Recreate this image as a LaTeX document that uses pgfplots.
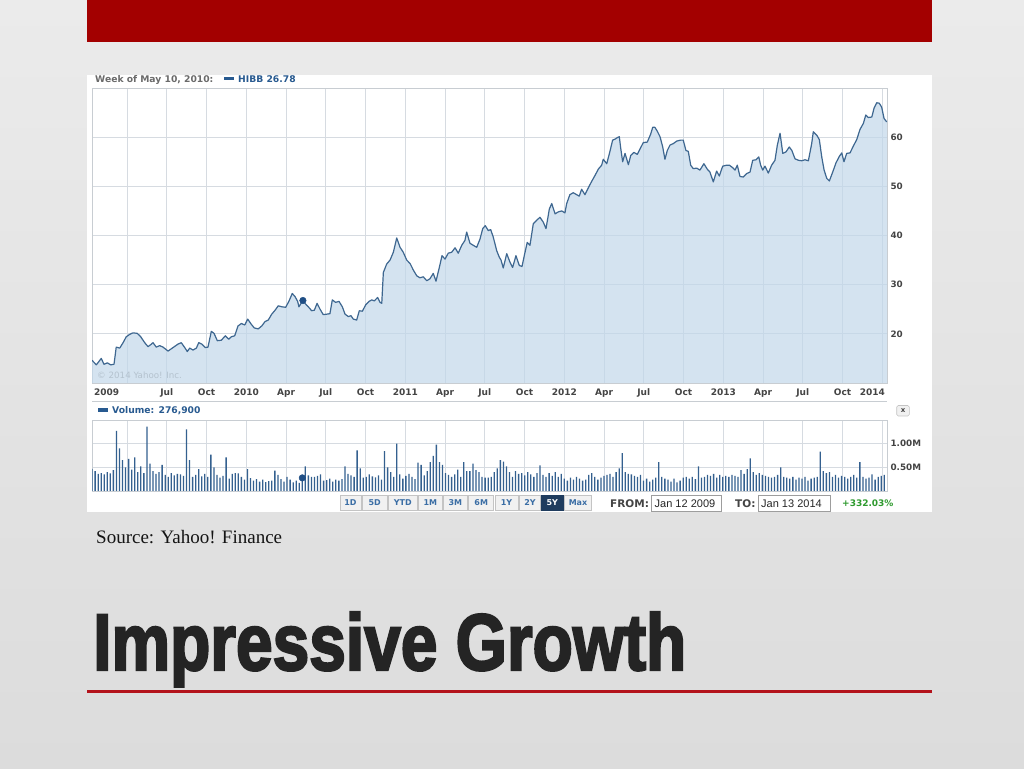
\documentclass[border=0pt]{standalone}
\usepackage{graphicx}
\usepackage{pgfplots}
\pgfplotsset{compat=1.18}
\usepackage{pgfplotstable}
\usepackage{fontspec}
\setmainfont{DejaVu Sans}
\newfontfamily\serifface{Liberation Serif}
\newfontfamily\arialface{Liberation Sans}
\newfontfamily\titleface[FakeBold=3]{Liberation Sans}

\definecolor{bgtop}{HTML}{EBEBEB}
\definecolor{bgbot}{HTML}{DCDCDC}
\definecolor{redbar}{HTML}{A30000}
\definecolor{redline}{HTML}{B3121B}
\definecolor{titlec}{HTML}{242424}
\definecolor{gridc}{HTML}{D6DBE1}
\definecolor{borderc}{HTML}{C8CDD2}
\definecolor{pfill}{HTML}{C2D8EA}
\definecolor{pline}{HTML}{3E6790}
\definecolor{dotc}{HTML}{1F4E85}
\definecolor{labc}{HTML}{444444}
\definecolor{hdrgray}{HTML}{6A6A6A}
\definecolor{legblue}{HTML}{285A90}
\definecolor{volc}{HTML}{34608F}
\definecolor{copyc}{HTML}{B4C2CE}
\definecolor{btnfill}{HTML}{F1F1F1}
\definecolor{btnborder}{HTML}{C4C4C4}
\definecolor{btntext}{HTML}{3B6EA5}
\definecolor{btnsel}{HTML}{1F3C5E}
\definecolor{greenc}{HTML}{2E9A2E}

\pgfplotstableread{
t v
2009.030 14.6
2009.057 13.7
2009.088 15.0
2009.105 13.8
2009.126 14.1
2009.147 13.7
2009.168 13.8
2009.182 17.3
2009.204 17.1
2009.225 18.2
2009.245 19.4
2009.267 19.9
2009.287 20.2
2009.314 20.1
2009.336 19.4
2009.361 18.2
2009.382 17.4
2009.399 17.8
2009.413 18.2
2009.434 17.3
2009.455 17.6
2009.476 17.3
2009.508 16.5
2009.539 17.2
2009.570 17.9
2009.591 18.2
2009.613 17.2
2009.629 16.4
2009.644 17.1
2009.665 16.7
2009.686 17.1
2009.701 18.2
2009.721 17.9
2009.742 17.2
2009.759 17.3
2009.780 20.5
2009.797 20.1
2009.818 18.6
2009.843 18.7
2009.868 19.6
2009.889 18.9
2009.906 19.4
2009.927 19.6
2009.948 21.6
2009.969 22.1
2009.990 21.8
2010.009 23.0
2010.030 22.0
2010.050 21.2
2010.075 21.0
2010.097 21.6
2010.118 22.5
2010.138 22.8
2010.160 24.0
2010.181 24.8
2010.201 25.7
2010.223 25.5
2010.248 25.4
2010.269 26.7
2010.289 28.2
2010.306 27.6
2010.323 26.6
2010.331 25.5
2010.356 26.78
2010.369 26.2
2010.390 25.5
2010.411 24.7
2010.428 24.8
2010.445 26.2
2010.464 25.0
2010.484 23.9
2010.506 24.0
2010.526 24.1
2010.541 26.9
2010.562 26.4
2010.583 26.6
2010.604 25.5
2010.621 24.0
2010.642 23.5
2010.658 23.7
2010.673 23.0
2010.694 22.8
2010.711 24.7
2010.730 24.6
2010.751 25.9
2010.772 26.6
2010.789 26.9
2010.805 26.7
2010.826 27.4
2010.841 26.4
2010.852 26.2
2010.862 32.5
2010.883 34.2
2010.904 35.0
2010.925 36.6
2010.946 39.5
2010.967 37.6
2010.987 36.6
2011.009 35.0
2011.030 34.3
2011.050 33.0
2011.072 31.8
2011.092 31.4
2011.113 31.6
2011.135 30.8
2011.155 31.2
2011.176 32.3
2011.193 30.7
2011.214 33.5
2011.231 35.9
2011.250 35.2
2011.270 36.4
2011.292 36.6
2011.313 37.5
2011.333 36.4
2011.355 38.0
2011.375 39.0
2011.386 40.7
2011.407 38.4
2011.428 38.0
2011.449 37.6
2011.470 39.3
2011.487 41.4
2011.503 42.0
2011.522 41.0
2011.537 41.2
2011.553 39.7
2011.575 36.9
2011.591 35.6
2011.602 35.0
2011.616 33.4
2011.638 36.3
2011.658 34.6
2011.675 33.5
2011.696 35.9
2011.717 33.9
2011.734 33.7
2011.753 36.6
2011.767 38.6
2011.784 38.0
2011.805 42.4
2011.826 43.1
2011.847 43.7
2011.868 42.7
2011.885 41.4
2011.906 45.4
2011.921 46.5
2011.942 44.4
2011.962 44.8
2011.984 45.0
2012.004 44.6
2012.015 46.5
2012.035 48.3
2012.056 48.7
2012.078 48.3
2012.094 48.0
2012.109 49.4
2012.130 48.3
2012.151 49.7
2012.172 51.0
2012.193 52.2
2012.214 53.5
2012.235 54.3
2012.245 55.5
2012.267 54.6
2012.287 57.1
2012.304 59.4
2012.319 59.6
2012.333 59.9
2012.346 60.1
2012.355 57.7
2012.367 55.0
2012.382 56.7
2012.403 54.4
2012.418 56.3
2012.438 56.9
2012.459 56.5
2012.476 57.6
2012.497 58.9
2012.522 59.0
2012.543 60.6
2012.556 62.0
2012.570 62.0
2012.585 61.2
2012.602 60.1
2012.619 58.0
2012.633 55.5
2012.648 57.3
2012.665 58.4
2012.686 58.7
2012.707 59.2
2012.732 59.4
2012.748 59.4
2012.765 57.3
2012.780 57.1
2012.795 54.3
2012.811 53.6
2012.833 53.7
2012.853 53.3
2012.878 54.6
2012.899 53.5
2012.916 52.9
2012.937 50.9
2012.958 53.1
2012.975 52.1
2012.996 54.1
2013.021 54.3
2013.038 54.3
2013.059 53.8
2013.074 53.3
2013.088 54.3
2013.105 52.0
2013.126 51.9
2013.147 52.6
2013.168 52.9
2013.185 55.3
2013.206 55.4
2013.223 56.0
2013.235 54.3
2013.248 53.3
2013.262 54.1
2013.283 52.7
2013.304 54.3
2013.325 55.3
2013.340 58.4
2013.357 60.8
2013.374 56.7
2013.394 57.0
2013.415 58.0
2013.431 57.3
2013.451 55.6
2013.472 55.3
2013.493 55.2
2013.514 55.4
2013.535 55.2
2013.556 58.7
2013.566 61.1
2013.588 60.4
2013.604 59.5
2013.619 56.0
2013.634 53.3
2013.651 51.6
2013.667 51.1
2013.688 52.9
2013.709 54.8
2013.730 56.1
2013.745 56.8
2013.759 55.0
2013.776 56.7
2013.797 56.8
2013.818 58.2
2013.839 59.5
2013.860 61.6
2013.881 62.8
2013.896 64.5
2013.912 64.0
2013.934 64.1
2013.948 65.9
2013.965 67.0
2013.981 66.9
2013.996 66.1
2014.011 63.8
2014.028 63.1
}\price

% weekly volume in millions, week 0 = Jan 12 2009
\pgfplotstableread[row sep=\\]{v\\
0.47\\0.42\\0.36\\0.38\\0.35\\0.40\\0.37\\0.44\\1.27\\0.90\\
0.65\\0.50\\0.68\\0.45\\0.71\\0.40\\0.52\\0.38\\1.36\\0.58\\
0.42\\0.36\\0.40\\0.55\\0.34\\0.30\\0.38\\0.33\\0.36\\0.35\\
0.32\\1.30\\0.65\\0.30\\0.34\\0.46\\0.31\\0.36\\0.30\\0.77\\
0.50\\0.34\\0.28\\0.32\\0.71\\0.26\\0.36\\0.38\\0.37\\0.30\\
0.24\\0.46\\0.27\\0.22\\0.25\\0.20\\0.24\\0.19\\0.21\\0.22\\
0.43\\0.34\\0.25\\0.20\\0.30\\0.24\\0.18\\0.22\\0.17\\0.277\\
0.52\\0.33\\0.30\\0.30\\0.32\\0.35\\0.22\\0.23\\0.26\\0.20\\
0.24\\0.22\\0.25\\0.52\\0.36\\0.33\\0.30\\0.86\\0.48\\0.28\\
0.30\\0.35\\0.31\\0.29\\0.33\\0.24\\0.84\\0.50\\0.40\\0.30\\
1.00\\0.35\\0.26\\0.32\\0.36\\0.30\\0.25\\0.60\\0.55\\0.33\\
0.42\\0.61\\0.74\\0.98\\0.61\\0.55\\0.38\\0.34\\0.30\\0.35\\
0.45\\0.30\\0.61\\0.42\\0.42\\0.58\\0.44\\0.40\\0.30\\0.28\\
0.28\\0.30\\0.40\\0.48\\0.65\\0.62\\0.52\\0.40\\0.30\\0.42\\
0.36\\0.38\\0.33\\0.40\\0.35\\0.30\\0.38\\0.54\\0.34\\0.30\\
0.38\\0.32\\0.40\\0.30\\0.36\\0.26\\0.22\\0.28\\0.24\\0.30\\
0.26\\0.22\\0.24\\0.34\\0.38\\0.30\\0.24\\0.28\\0.32\\0.34\\
0.36\\0.30\\0.40\\0.48\\0.80\\0.40\\0.36\\0.35\\0.32\\0.30\\
0.34\\0.22\\0.26\\0.20\\0.24\\0.28\\0.61\\0.30\\0.26\\0.24\\
0.20\\0.26\\0.18\\0.22\\0.28\\0.30\\0.26\\0.30\\0.25\\0.52\\
0.28\\0.30\\0.34\\0.32\\0.36\\0.28\\0.34\\0.30\\0.32\\0.30\\
0.34\\0.32\\0.30\\0.44\\0.36\\0.46\\0.69\\0.40\\0.34\\0.38\\
0.34\\0.32\\0.30\\0.28\\0.30\\0.34\\0.50\\0.30\\0.28\\0.26\\
0.30\\0.24\\0.28\\0.26\\0.30\\0.22\\0.26\\0.28\\0.30\\0.83\\
0.42\\0.38\\0.40\\0.30\\0.34\\0.28\\0.32\\0.30\\0.26\\0.30\\
0.34\\0.28\\0.61\\0.30\\0.26\\0.28\\0.35\\0.24\\0.30\\0.32\\
0.34\\
}\vol

\newcommand{\btn}[3]{%
  \draw[fill=btnfill, draw=btnborder, line width=0.6pt] (#1,258) rectangle (#2,273);
  \node[inner sep=0, font=\fontsize{8}{9}\selectfont\bfseries, text=btntext] at ({(#1+#2)/2},265.5) {#3};}

\begin{document}
\begin{tikzpicture}
\useasboundingbox (0,0) rectangle (1024pt,768pt);
\begin{scope}[x=1pt,y=1pt]
\shade[top color=bgtop,bottom color=bgbot] (0,0) rectangle (1024,768);
\fill[redbar] (87,726) rectangle (932,768);
\fill[white] (87,256) rectangle (932,693);
\begin{scope}
\clip (87,256) rectangle (932,693);
\node[anchor=base west, inner sep=0, font=\fontsize{9.2}{11}\selectfont\bfseries, text=hdrgray] at (95,685.8) {Week of May 10, 2010:};
\end{scope}
\fill[legblue] (224,687.5) rectangle (234,690.5);
\node[anchor=base west, inner sep=0, font=\fontsize{9.2}{11}\selectfont\bfseries, text=legblue] at (238,685.8) {HIBB 26.78};
\draw[borderc, line width=0.8pt] (92,366.5) -- (887,366.5);
\fill[legblue] (98,356) rectangle (108,360);
\node[anchor=base west, inner sep=0, font=\fontsize{9.2}{11}\selectfont\bfseries, text=legblue] at (112,354.5) {Volume: 276,900};
% close button
\draw[fill=btnfill, draw=btnborder, line width=0.6pt, rounded corners=1.5pt] (896.7,352) rectangle (909.3,362.5);
\node[inner sep=0, font=\fontsize{7}{8}\selectfont\bfseries, text=labc] at (903,357.3) {x};
% range buttons
\btn{340}{361}{1D}
\btn{362.5}{387}{5D}
\btn{388.7}{417}{YTD}
\btn{418.7}{442}{1M}
\btn{443.7}{467}{3M}
\btn{468.7}{493.7}{6M}
\btn{495}{518}{1Y}
\btn{519.5}{540.5}{2Y}
\draw[fill=btnsel, draw=btnsel, line width=0.6pt] (541.5,258) rectangle (563,273);
\node[inner sep=0, font=\fontsize{8}{9}\selectfont\bfseries, text=white] at (552.25,265.5) {5Y};
\btn{564.5}{591.5}{Max}
\node[anchor=west, inner sep=0, font=\fontsize{10.5}{12}\selectfont\bfseries, text=labc] at (610,264.5) {FROM:};
\draw[fill=white, draw=btnborder!80!black, line width=0.6pt] (651.7,257) rectangle (721.7,272.5);
\node[anchor=west, inner sep=0, font=\arialface\fontsize{11}{12}\selectfont, text=black!85] at (654.5,264.5) {Jan 12 2009};
\node[anchor=west, inner sep=0, font=\fontsize{10.5}{12}\selectfont\bfseries, text=labc] at (735,264.5) {TO:};
\draw[fill=white, draw=btnborder!80!black, line width=0.6pt] (758.3,257) rectangle (830,272.5);
\node[anchor=west, inner sep=0, font=\arialface\fontsize{11}{12}\selectfont, text=black!85] at (761,264.5) {Jan 13 2014};
\node[anchor=west, inner sep=0, font=\fontsize{9}{10}\selectfont\bfseries, text=greenc] at (842,264.5) {+332.03\%};
% slide texts
\node[anchor=base west, inner sep=0, font=\serifface\fontsize{19}{22}\selectfont, text=black!92] at (96,224.5) {Source: Yahoo! Finance};
\node[anchor=base west, inner sep=0, text=titlec] at (93,98) {\resizebox{593pt}{58pt}{\titleface\bfseries Impressive Growth}};
\fill[redline] (87,75.5) rectangle (932,78.5);
\end{scope}

% price chart
\begin{axis}[
  at={(92pt,385pt)}, anchor=south west,
  scale only axis, width=795pt, height=295pt,
  xmin=2009.0296, xmax=2014.0296, ymin=10, ymax=70,
  clip mode=individual,
  axis line style={draw=borderc, line width=0.8pt},
  grid=major, major grid style={draw=gridc, line width=0.8pt},
  xtick={2009.25,2009.5,2009.75,2010,2010.25,2010.5,2010.75,2011,2011.25,2011.5,2011.75,2012,2012.25,2012.5,2012.75,2013,2013.25,2013.5,2013.75,2014},
  xticklabels={,Jul,Oct,2010,Apr,Jul,Oct,2011,Apr,Jul,Oct,2012,Apr,Jul,Oct,2013,Apr,Jul,Oct,},
  ytick={20,30,40,50,60}, yticklabels={20,30,40,50,60},
  yticklabel pos=right,
  major tick length=0pt, tick style={draw=none},
  xticklabel style={font=\fontsize{9}{10}\selectfont\bfseries, text=labc, yshift=-2.3pt},
  yticklabel style={font=\fontsize{8.8}{10}\selectfont\bfseries, text=labc},
]
\addplot[draw=none, fill=pfill, fill opacity=0.7] table[x=t,y=v]{\price} \closedcycle;
\addplot[draw=pline, line width=1.2pt, line join=round] table[x=t,y=v]{\price};
\addplot[only marks, mark=*, mark size=3.3pt, mark options={fill=dotc, draw=dotc}] coordinates {(2010.356,26.78)};
\node[anchor=base west, inner sep=0, font=\fontsize{8.7}{10}\selectfont, text=copyc] at (rel axis cs:0,0) [xshift=5pt, yshift=4pt] {© 2014 Yahoo! Inc.};
\node[anchor=north west, inner sep=0, font=\fontsize{9}{10}\selectfont\bfseries, text=labc] at (rel axis cs:0,0) [xshift=2pt, yshift=-5.3pt] {2009};
\node[anchor=north east, inner sep=0, font=\fontsize{9}{10}\selectfont\bfseries, text=labc] at (rel axis cs:1,0) [xshift=-2pt, yshift=-5.3pt] {2014};
\end{axis}

% volume chart
\begin{axis}[
  at={(92pt,277pt)}, anchor=south west,
  scale only axis, width=795pt, height=71pt,
  xmin=-0.02, xmax=260.9, ymin=0, ymax=1.5,
  axis line style={draw=borderc, line width=0.8pt},
  grid=major, major grid style={draw=gridc, line width=0.8pt},
  xtick={11.48,24.52,37.57,50.61,63.66,76.70,89.75,102.79,115.84,128.88,141.93,154.97,168.02,181.06,194.11,207.15,220.19,233.24,246.28,259.33},
  xticklabels={,,,,,,,,,,,,,,,,,,,},
  ytick={0.5,1}, yticklabels={0.50M,1.00M},
  yticklabel pos=right,
  major tick length=0pt, tick style={draw=none},
  yticklabel style={font=\fontsize{8.8}{10}\selectfont\bfseries, text=labc},
]
\addplot[ybar, bar width=1.3pt, draw=none, fill=volc] table[x expr=\coordindex, y=v]{\vol};
\addplot[only marks, mark=*, mark size=3.3pt, mark options={fill=dotc, draw=dotc}] coordinates {(69,0.277)};
\end{axis}
\end{tikzpicture}
\end{document}
